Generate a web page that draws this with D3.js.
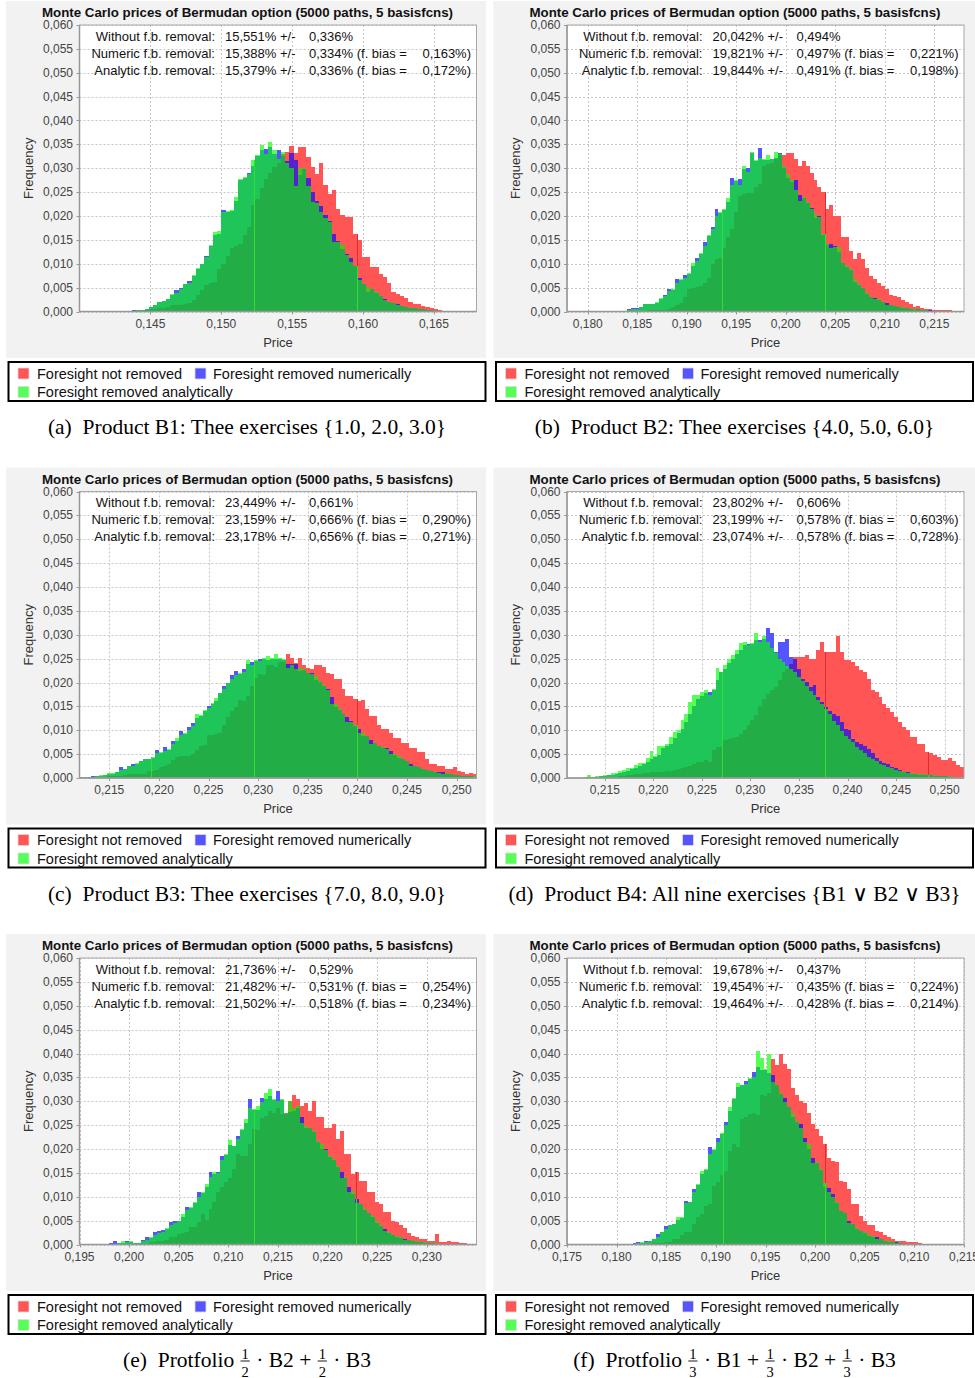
<!DOCTYPE html>
<html><head><meta charset="utf-8">
<script src="https://cdnjs.cloudflare.com/ajax/libs/d3/7.8.5/d3.min.js"></script>
<style>body{margin:0;background:#fff;} svg{display:block;}</style>
</head><body><svg id="c" width="975" height="1378"></svg>
<script>
// ---------------- DATA ----------------
const seriesNames = ["Foresight not removed", "Foresight removed numerically", "Foresight removed analytically"];
const annotLabels = ["Without f.b. removal:", "Numeric f.b. removal:", "Analytic f.b. removal:"];
const chartTitle = "Monte Carlo prices of Bermudan option (5000 paths, 5 basisfcns)";
const yTicks = [0,0.005,0.010,0.015,0.020,0.025,0.030,0.035,0.040,0.045,0.050,0.055,0.060];

// statistics printed in the plots (percent)
const statMeans = [[15.551,15.388,15.379],[20.042,19.821,19.844],[23.449,23.159,23.178],[23.802,23.199,23.074],[21.736,21.482,21.502],[19.678,19.454,19.464]];
const statErrs  = [[0.336,0.334,0.336],[0.494,0.497,0.491],[0.661,0.666,0.656],[0.606,0.578,0.578],[0.529,0.531,0.518],[0.437,0.435,0.428]];
const statBias  = [[0.163,0.172],[0.221,0.198],[0.290,0.271],[0.603,0.728],[0.254,0.234],[0.224,0.214]];

// Panel (a)
const xDomA = [0.1400, 0.1680];
const xTicksA = [0.145,0.150,0.155,0.160,0.165];
const binA = [0.1428, 0.0003];
const redA = [0,0,.0001,.0001,.0001,.0002,.0003,.0005,.0006,.0008, .0008,.0010,.0013,.0013,.0014,.0015,.0018,.0025,.0035,.0045, .0056,.0060,.0062,.0090,.0100,.0117,.0132,.0138,.0142,.0160, .0176,.0223,.0235,.0258,.0278,.0290,.0303,.0310,.0330,.0335, .0347,.0331,.0345,.0345,.0324,.0303,.0289,.0310,.0265,.0247, .0254,.0215,.0202,.0198,.0198,.0163,.0149,.0114,.0114,.0093, .0093,.0079,.0072,.0060,.0040,.0036,.0032,.0028,.0020,.0016, .0015,.0012,.0010,.0008,.0005,.0004,.0002,.0002,.0001,.0002, .0001,.0002,.0001,.0002];
const blueA = [.0002,.0001,.0002,.0003,.0003,.0004,.0005,.0009,.0013,.0020, .0021,.0026,.0034,.0044,.0050,.0057,.0064,.0074,.0090,.0099, .0117,.0138,.0160,.0162,.0213,.0208,.0210,.0232,.0275,.0280, .0290,.0305,.0326,.0338,.0340,.0345,.0330,.0338,.0325,.0315, .0331,.0317,.0285,.0298,.0279,.0250,.0232,.0220,.0202,.0190, .0163,.0148,.0130,.0120,.0113,.0095,.0070,.0058,.0041,.0047, .0038,.0032,.0026,.0020,.0017,.0015,.0011,.0010,.0008,.0007, .0006,.0005,.0004,.0003,.0002,.0001,.0001,0,.0001,0, 0,0,0,0];
const greenA = [.0001,.0001,.0002,.0002,.0003,.0004,.0006,.0009,.0014,.0020, .0022,.0026,.0036,.0039,.0048,.0058,.0060,.0076,.0092,.0100, .0114,.0140,.0166,.0168,.0208,.0210,.0212,.0240,.0277,.0282, .0288,.0317,.0328,.0349,.0330,.0356,.0338,.0320,.0335,.0310, .0300,.0262,.0300,.0300,.0262,.0230,.0228,.0209,.0195,.0188, .0146,.0146,.0140,.0118,.0103,.0095,.0067,.0058,.0052,.0048, .0040,.0032,.0025,.0020,.0017,.0014,.0011,.0009,.0008,.0007, .0006,.0005,.0004,.0003,.0002,.0002,.0001,0,0,0, 0,0,0,0];
const seamA = [0.1523, 0.1596];

// Panel (b)
const xDomB = [0.1779, 0.2180];
const xTicksB = [0.180,0.185,0.190,0.195,0.200,0.205,0.210,0.215];
const binB = [0.1812, 0.0004];
const redB = [0,0,0,0,0,0,0,.0001,.0002,.0002, .0002,.0002,.0003,.0003,.0003,.0004,.0004,.0006,.0010,.0014, .0017,.0030,.0048,.0050,.0051,.0054,.0060,.0071,.0100,.0110, .0112,.0134,.0155,.0172,.0208,.0242,.0247,.0249,.0249,.0260, .0266,.0305,.0308,.0310,.0320,.0327,.0327,.0332,.0332,.0320, .0305,.0315,.0305,.0290,.0275,.0260,.0250,.0215,.0224,.0200, .0200,.0155,.0155,.0127,.0109,.0123,.0110,.0092,.0075,.0069, .0060,.0054,.0047,.0035,.0033,.0031,.0025,.0020,.0015,.0010, .0012,.0008,.0006,.0005,.0003,.0003,.0003,.0003,.0003,.0002];
const blueB = [0,.0001,0,0,.0001,.0002,.0002,.0005,.0008,.0008, .0010,.0015,.0015,.0015,.0018,.0027,.0035,.0047,.0046,.0068, .0067,.0076,.0079,.0096,.0113,.0121,.0146,.0158,.0178,.0215, .0207,.0213,.0230,.0279,.0273,.0277,.0298,.0300,.0332,.0316, .0343,.0318,.0318,.0320,.0322,.0332,.0300,.0280,.0272,.0275, .0245,.0238,.0228,.0217,.0195,.0200,.0160,.0140,.0142,.0137, .0125,.0101,.0094,.0086,.0062,.0056,.0050,.0037,.0031,.0029, .0025,.0020,.0017,.0013,.0011,.0010,.0008,.0007,.0006,.0004, .0005,.0003,.0003,.0003,.0001,0,0,0,0,0];
const greenB = [0,0,0,0,.0001,.0002,.0002,.0003,.0005,.0006, .0010,.0015,.0015,.0015,.0019,.0028,.0033,.0042,.0047,.0060, .0068,.0070,.0080,.0102,.0105,.0122,.0138,.0160,.0172,.0200, .0208,.0215,.0238,.0265,.0275,.0265,.0305,.0292,.0334,.0318, .0322,.0320,.0327,.0320,.0334,.0330,.0305,.0287,.0275,.0255, .0232,.0240,.0230,.0215,.0204,.0198,.0162,.0142,.0132,.0135, .0135,.0102,.0095,.0088,.0068,.0057,.0050,.0038,.0030,.0026, .0026,.0020,.0014,.0013,.0012,.0010,.0009,.0007,.0006,.0005, .0005,.0004,.0003,.0002,0,0,0,0,0,0];
const seamB = [0.1936, 0.2040];

// Panel (c)
const xDomC = [0.2120, 0.2520];
const xTicksC = [0.215,0.220,0.225,0.230,0.235,0.240,0.245,0.250];
const binC = [0.2120, 0.0004];
const redC = [.0001,.0001,.0001,.0002,.0002,.0002,.0002,.0004,.0004,.0004, .0004,.0006,.0008,.0008,.0008,.0008,.0009,.0015,.0015,.0016, .0024,.0025,.0030,.0038,.0043,.0046,.0047,.0047,.0050,.0058, .0068,.0070,.0090,.0091,.0093,.0094,.0110,.0127,.0140,.0148, .0164,.0162,.0172,.0193,.0210,.0217,.0215,.0236,.0236,.0233, .0243,.0243,.0259,.0252,.0240,.0252,.0236,.0231,.0228,.0236, .0236,.0232,.0220,.0217,.0207,.0207,.0186,.0172,.0172,.0165, .0161,.0163,.0144,.0130,.0130,.0110,.0102,.0102,.0095,.0083, .0083,.0073,.0073,.0062,.0062,.0054,.0054,.0040,.0029,.0029, .0026,.0026,.0019,.0019,.0024,.0015,.0013,.0008,.0010,.0009];
const blueC = [.0003,.0003,.0003,.0005,.0005,.0005,.0006,.0008,.0009,.0013, .0022,.0018,.0025,.0029,.0030,.0035,.0039,.0040,.0042,.0058, .0053,.0064,.0059,.0078,.0078,.0099,.0093,.0106,.0115,.0125, .0130,.0141,.0150,.0156,.0162,.0177,.0193,.0198,.0215,.0224, .0218,.0228,.0238,.0242,.0246,.0250,.0250,.0248,.0250,.0250, .0250,.0248,.0238,.0238,.0238,.0225,.0227,.0220,.0220,.0205, .0202,.0192,.0186,.0170,.0148,.0142,.0134,.0127,.0120,.0108, .0102,.0088,.0087,.0080,.0073,.0067,.0063,.0062,.0057,.0049, .0042,.0039,.0035,.0029,.0025,.0022,.0018,.0017,.0014,.0013, .0012,.0012,.0009,.0008,.0007,.0006,.0005,.0004,.0004,.0003];
const greenC = [.0001,.0002,.0001,.0003,.0004,.0006,.0006,.0010,.0010,.0013, .0017,.0019,.0026,.0025,.0031,.0036,.0040,.0040,.0043,.0052, .0054,.0057,.0060,.0071,.0084,.0090,.0094,.0100,.0108,.0134, .0132,.0143,.0146,.0158,.0168,.0179,.0186,.0200,.0208,.0215, .0220,.0222,.0248,.0236,.0248,.0244,.0252,.0255,.0252,.0260, .0252,.0250,.0230,.0236,.0228,.0231,.0229,.0220,.0218,.0214, .0203,.0194,.0184,.0155,.0155,.0144,.0133,.0118,.0118,.0110, .0094,.0095,.0088,.0072,.0074,.0068,.0064,.0061,.0051,.0050, .0047,.0040,.0036,.0025,.0026,.0022,.0019,.0017,.0015,.0013, .0010,.0009,.0010,.0009,.0007,.0006,.0005,.0005,.0004,.0004];
const seamC = [0.2192, 0.2296, 0.2400];

// Panel (d)
const xDomD = [0.2111, 0.2520];
const xTicksD = [0.215,0.220,0.225,0.230,0.235,0.240,0.245,0.250];
const binD = [0.2112, 0.0004];
const redD = [0,0,0,0,.0001,.0001,.0001,.0001,.0001,.0002, .0002,.0003,.0003,.0004,.0005,.0006,.0007,.0008,.0009,.0010, .0011,.0012,.0013,.0013,.0013,.0014,.0015,.0016,.0018,.0020, .0022,.0025,.0030,.0034,.0034,.0038,.0034,.0058,.0065,.0065, .0079,.0082,.0084,.0086,.0092,.0100,.0110,.0122,.0132,.0150, .0165,.0175,.0184,.0191,.0205,.0222,.0228,.0238,.0254,.0254, .0254,.0257,.0250,.0250,.0268,.0285,.0264,.0264,.0264,.0297, .0264,.0247,.0247,.0243,.0234,.0226,.0222,.0208,.0184,.0180, .0170,.0156,.0147,.0138,.0128,.0117,.0107,.0100,.0086,.0086, .0071,.0071,.0055,.0053,.0048,.0045,.0037,.0037,.0041,.0036, .0027,.0023];
const blueD = [0,.0001,.0001,.0001,.0001,.0002,.0003,.0003,.0004,.0004, .0006,.0007,.0009,.0010,.0013,.0015,.0018,.0020,.0026,.0030, .0033,.0040,.0045,.0048,.0062,.0068,.0072,.0084,.0094,.0102, .0118,.0133,.0150,.0165,.0172,.0178,.0180,.0185,.0205,.0222, .0228,.0240,.0250,.0260,.0268,.0278,.0280,.0281,.0290,.0288, .0292,.0315,.0303,.0264,.0284,.0285,.0292,.0254,.0250,.0229, .0208,.0201,.0191,.0194,.0170,.0159,.0149,.0140,.0135,.0130, .0117,.0103,.0100,.0082,.0075,.0071,.0066,.0061,.0052,.0041, .0036,.0031,.0030,.0023,.0020,.0016,.0013,.0013,.0009,.0009, .0007,.0007,.0006,.0006,.0005,.0005,.0004,.0004,.0003,.0002, .0002,.0001];
const greenD = [.0001,.0001,.0001,.0001,.0002,.0006,.0002,.0004,.0004,.0006, .0007,.0010,.0010,.0014,.0016,.0020,.0020,.0027,.0031,.0031, .0041,.0056,.0046,.0068,.0068,.0072,.0086,.0096,.0100,.0121, .0135,.0159,.0173,.0173,.0180,.0184,.0173,.0187,.0231,.0222, .0236,.0250,.0257,.0269,.0282,.0285,.0278,.0282,.0304,.0285, .0297,.0285,.0272,.0262,.0250,.0242,.0235,.0228,.0222,.0212, .0203,.0193,.0182,.0174,.0163,.0155,.0145,.0135,.0120,.0112, .0098,.0088,.0082,.0075,.0065,.0058,.0052,.0045,.0040,.0035, .0030,.0027,.0022,.0020,.0016,.0014,.0012,.0011,.0010,.0009, .0008,.0008,.0007,.0006,.0006,.0005,.0005,.0004,.0004,.0003, .0002,.0002];
const seamD = [0.2271, 0.2377, 0.2483];

// Panel (e)
const xDomE = [0.1950, 0.2350];
const xTicksE = [0.195,0.200,0.205,0.210,0.215,0.220,0.225,0.230];
const binE = [0.1980, 0.0004];
const redE = [.0001,.0001,.0001,.0001,.0001,.0001,.0001,.0001,.0001,.0002, .0005,.0005,.0008,.0008,.0010,.0015,.0015,.0022,.0024,.0026, .0036,.0036,.0047,.0064,.0052,.0074,.0090,.0110,.0120,.0130, .0140,.0158,.0189,.0186,.0185,.0210,.0241,.0240,.0264,.0270, .0280,.0275,.0285,.0273,.0276,.0300,.0314,.0304,.0290,.0297, .0280,.0300,.0268,.0268,.0245,.0245,.0252,.0220,.0238,.0189, .0189,.0147,.0151,.0134,.0134,.0109,.0109,.0088,.0085,.0069, .0069,.0050,.0047,.0040,.0034,.0024,.0017,.0015,.0012,.0012, .0008,.0008,.0022,.0006,.0005,.0007,.0005,.0005,.0003,.0003,.0001];
const blueE = [.0003,.0007,.0003,.0004,.0007,.0006,.0004,.0004,.0010,.0015, .0014,.0026,.0029,.0030,.0033,.0047,.0049,.0049,.0058,.0078, .0076,.0087,.0109,.0107,.0120,.0151,.0148,.0152,.0186,.0187, .0208,.0206,.0227,.0239,.0255,.0305,.0281,.0282,.0307,.0305, .0310,.0302,.0321,.0302,.0273,.0278,.0280,.0286,.0268,.0245, .0245,.0236,.0215,.0200,.0200,.0184,.0177,.0163,.0151,.0139, .0120,.0105,.0095,.0084,.0072,.0066,.0058,.0044,.0039,.0033, .0025,.0019,.0016,.0014,.0012,.0009,.0008,.0006,.0005,.0004, .0004,.0003,.0002,.0002,.0001,0,.0001,0,0,0,0];
const greenE = [.0001,.0002,.0004,.0007,.0005,.0007,.0004,.0004,.0007,.0010, .0015,.0020,.0025,.0026,.0034,.0040,.0045,.0050,.0064,.0072, .0078,.0088,.0100,.0109,.0127,.0142,.0152,.0150,.0178,.0189, .0218,.0207,.0220,.0241,.0262,.0285,.0283,.0290,.0298,.0318, .0326,.0304,.0300,.0304,.0275,.0300,.0285,.0290,.0255,.0248, .0243,.0238,.0217,.0210,.0198,.0186,.0179,.0165,.0140,.0141, .0110,.0113,.0086,.0085,.0074,.0067,.0059,.0050,.0040,.0028, .0026,.0020,.0017,.0015,.0010,.0010,.0008,.0007,.0006,.0005, .0004,.0003,.0003,.0002,.0001,.0001,0,0,0,0,0];
const seamE = [0.2126, 0.2229];

// Panel (f)
const xDomF = [0.1750, 0.2150];
const xTicksF = [0.175,0.180,0.185,0.190,0.195,0.200,0.205,0.210,0.215];
const binF = [0.1812, 0.0004];
const redF = [.0001,.0001,.0001,.0001,.0001,.0002,.0003,.0003,.0003,.0006, .0006,.0012,.0012,.0019,.0026,.0026,.0043,.0057,.0064,.0081, .0085,.0123,.0130,.0145,.0154,.0196,.0210,.0205,.0262,.0268, .0273,.0276,.0272,.0314,.0310,.0318,.0388,.0375,.0398,.0377, .0367,.0328,.0314,.0300,.0297,.0276,.0252,.0241,.0227,.0210, .0182,.0175,.0172,.0134,.0130,.0116,.0085,.0085,.0060,.0050, .0040,.0040,.0029,.0026,.0019,.0015,.0012,.0008,.0008,.0007, .0005,.0005,.0005,.0004,.0002];
const blueF = [.0001,.0003,.0006,.0004,.0008,.0007,.0011,.0022,.0026,.0038, .0040,.0042,.0052,.0056,.0092,.0089,.0116,.0125,.0148,.0156, .0205,.0198,.0224,.0232,.0257,.0280,.0305,.0330,.0333,.0342, .0347,.0361,.0372,.0365,.0365,.0360,.0356,.0333,.0316,.0307, .0287,.0268,.0257,.0252,.0224,.0200,.0182,.0170,.0156,.0120, .0118,.0106,.0087,.0070,.0066,.0050,.0042,.0033,.0028,.0025, .0017,.0016,.0015,.0011,.0008,.0006,.0005,.0005,.0003,.0001, .0001,.0001,0,0,0];
const greenF = [.0001,.0001,.0003,.0005,.0005,.0008,.0012,.0016,.0027,.0033, .0041,.0043,.0057,.0057,.0086,.0090,.0110,.0127,.0154,.0158, .0190,.0200,.0215,.0234,.0250,.0289,.0307,.0339,.0335,.0336, .0349,.0350,.0406,.0391,.0368,.0400,.0340,.0335,.0318,.0298, .0289,.0276,.0259,.0244,.0214,.0210,.0170,.0172,.0158,.0129, .0110,.0100,.0088,.0071,.0067,.0045,.0043,.0034,.0029,.0026, .0020,.0017,.0012,.0012,.0008,.0007,.0006,.0003,.0003,.0001, .0001,0,0,0,0];
const seamF = [0.1907, 0.2010];

// captions (strings, and [numerator, denominator] fractions)
const captions = [
  ["(a)  Product B1: Thee exercises {1.0, 2.0, 3.0}"],
  ["(b)  Product B2: Thee exercises {4.0, 5.0, 6.0}"],
  ["(c)  Product B3: Thee exercises {7.0, 8.0, 9.0}"],
  ["(d)  Product B4: All nine exercises {B1 \u2228 B2 \u2228 B3}"],
  ["(e)  Protfolio ", ["1","2"], " \u00b7 B2 + ", ["1","2"], " \u00b7 B3"],
  ["(f)  Protfolio ", ["1","3"], " \u00b7 B1 + ", ["1","3"], " \u00b7 B2 + ", ["1","3"], " \u00b7 B3"]
];

const panels = [
  {red:redA, blue:blueA, green:greenA, bin:binA, dom:xDomA, ticks:xTicksA, seams:seamA},
  {red:redB, blue:blueB, green:greenB, bin:binB, dom:xDomB, ticks:xTicksB, seams:seamB},
  {red:redC, blue:blueC, green:greenC, bin:binC, dom:xDomC, ticks:xTicksC, seams:seamC},
  {red:redD, blue:blueD, green:greenD, bin:binD, dom:xDomD, ticks:xTicksD, seams:seamD},
  {red:redE, blue:blueE, green:greenE, bin:binE, dom:xDomE, ticks:xTicksE, seams:seamE},
  {red:redF, blue:blueF, green:greenF, bin:binF, dom:xDomF, ticks:xTicksF, seams:seamF}
];

// ---------------- STYLE ----------------
const SANS = "'Liberation Sans', Arial, Helvetica, sans-serif";
const SERIF = "'Liberation Serif', 'Times New Roman', Times, serif";
const COLORS = {R:'#ff5555', B:'#5555ff', G:'#55ff55', RB:'#5522cc', RG:'#58bb22', BG:'#20c55a', RBG:'#22ad46'};
const legendColors = ['#ff5555', '#5555ff', '#55ff55'];

const svg = d3.select('#c');
svg.append('rect').attr('width',975).attr('height',1378).attr('fill','#fff');
const fmt3 = v => d3.format('.3f')(v).replace('.', ',');

function segments(r, b, g) {
  const levels = Array.from(new Set([0, r, b, g])).sort((p, q) => p - q);
  const out = [];
  for (let k = 1; k < levels.length; k++) {
    const lo = levels[k-1], hi = levels[k];
    const key = (r >= hi ? 'R' : '') + (b >= hi ? 'B' : '') + (g >= hi ? 'G' : '');
    if (key) out.push({lo, hi, key});
  }
  return out;
}

function drawCaption(g, cx, y, parts) {
  const grp = g.append('g');
  let x = 0;
  parts.forEach(p => {
    if (typeof p === 'string') {
      const t = grp.append('text').attr('x', x).attr('y', y)
        .attr('font-family', SERIF).attr('font-size', 21.5).attr('fill', '#000')
        .style('white-space', 'pre').text(p);
      x += t.node().getComputedTextLength();
    } else {
      const fs = 14.5;
      const n = grp.append('text').attr('x', x + 2).attr('y', y - 8)
        .attr('font-family', SERIF).attr('font-size', fs).text(p[0]);
      const w = n.node().getComputedTextLength();
      grp.append('text').attr('x', x + 2).attr('y', y + 9.5)
        .attr('font-family', SERIF).attr('font-size', fs).text(p[1]);
      grp.append('line').attr('x1', x + 1).attr('x2', x + w + 3)
        .attr('y1', y - 6).attr('y2', y - 6).attr('stroke', '#000').attr('stroke-width', 0.9);
      x += w + 4;
    }
  });
  grp.attr('transform', `translate(${cx - x / 2},0)`);
}

panels.forEach((p, k) => {
  const col = k % 2, row = Math.floor(k / 2);
  const ox = col * 487.5, oy = row * 466.5;
  const g = svg.append('g');

  // chart background
  g.append('rect').attr('x', 6 + ox).attr('y', 1 + oy).attr('width', col ? 481.5 : 480).attr('height', 357).attr('fill', '#f2f2f2');

  const L = 79.5 + ox, R = 476.5 + ox, T = 25 + oy, Bm = 311.5 + oy;
  const x = d3.scaleLinear().domain(p.dom).range([L, R]);
  const y = d3.scaleLinear().domain([0, 0.06]).range([Bm, T]);

  // plot area
  g.append('rect').attr('x', L).attr('y', T).attr('width', R - L).attr('height', Bm - T).attr('fill', '#fff');

  // grid
  const grid = g.append('g').attr('stroke', '#c6c6c6').attr('stroke-dasharray', '2,2').attr('stroke-width', 1);
  grid.selectAll('line.h').data(yTicks).join('line').attr('class', 'h')
    .attr('x1', L).attr('x2', R).attr('y1', d => Math.round(y(d)) + 0.5).attr('y2', d => Math.round(y(d)) + 0.5);
  grid.selectAll('line.v').data(p.ticks).join('line').attr('class', 'v')
    .attr('y1', T).attr('y2', Bm).attr('x1', d => Math.round(x(d)) + 0.5).attr('x2', d => Math.round(x(d)) + 0.5);

  // histogram bars (overlapping series rendered as blended segments)
  const clipId = 'clip' + k;
  g.append('clipPath').attr('id', clipId).append('rect').attr('x', L).attr('y', T).attr('width', R - L).attr('height', Bm - T);
  const bars = g.append('g').attr('clip-path', `url(#${clipId})`).attr('shape-rendering', 'crispEdges');
  const rows = [];
  p.red.forEach((r, i) => {
    const x0 = p.bin[0] + i * p.bin[1], x1 = x0 + p.bin[1];
    segments(r, p.blue[i], p.green[i]).forEach(s => rows.push({x0, x1, lo: s.lo, hi: s.hi, key: s.key}));
  });
  bars.selectAll('rect').data(rows).join('rect')
    .attr('x', d => x(d.x0)).attr('width', d => x(d.x1) - x(d.x0))
    .attr('y', d => y(d.hi)).attr('height', d => y(d.lo) - y(d.hi))
    .attr('fill', d => COLORS[d.key]);

  // thin rendering seams
  p.seams.forEach(s => {
    const i = Math.floor((s - p.bin[0]) / p.bin[1]);
    const env = Math.max(p.blue[i], p.green[i]);
    const xs = Math.round(x(s)) + 0.5;
    bars.append('line').attr('x1', xs).attr('x2', xs).attr('y1', y(0)).attr('y2', y(env)).attr('stroke', '#30e030').attr('stroke-width', 1);
    if (p.red[i] > env) bars.append('line').attr('x1', xs).attr('x2', xs).attr('y1', y(env)).attr('y2', y(p.red[i])).attr('stroke', '#e42a2a').attr('stroke-width', 1);
  });

  // outline + axes
  g.append('rect').attr('x', L).attr('y', T).attr('width', R - L).attr('height', Bm - T).attr('fill', 'none').attr('stroke', '#a8a8a8').attr('stroke-width', 1);
  g.append('line').attr('x1', L).attr('x2', L).attr('y1', T).attr('y2', Bm).attr('stroke', '#979797').attr('stroke-width', 1.5);
  g.append('line').attr('x1', L).attr('x2', R).attr('y1', Bm).attr('y2', Bm).attr('stroke', '#979797').attr('stroke-width', 1.5);

  // y ticks
  const yt = g.append('g');
  yt.selectAll('line').data(yTicks).join('line').attr('x1', L - 3).attr('x2', L)
    .attr('y1', d => Math.round(y(d)) + 0.5).attr('y2', d => Math.round(y(d)) + 0.5).attr('stroke', '#999');
  yt.selectAll('text').data(yTicks).join('text').attr('x', L - 6.5).attr('y', d => y(d) + 4)
    .attr('text-anchor', 'end').attr('font-family', SANS).attr('font-size', 12).attr('fill', '#444').text(fmt3);

  // x ticks
  const xt = g.append('g');
  xt.selectAll('line').data(p.ticks).join('line').attr('y1', Bm).attr('y2', Bm + 3)
    .attr('x1', d => Math.round(x(d)) + 0.5).attr('x2', d => Math.round(x(d)) + 0.5).attr('stroke', '#999');
  xt.selectAll('text').data(p.ticks).join('text').attr('x', d => x(d)).attr('y', Bm + 16)
    .attr('text-anchor', 'middle').attr('font-family', SANS).attr('font-size', 12).attr('fill', '#444').text(fmt3);

  // axis titles
  g.append('text').attr('x', (L + R) / 2).attr('y', Bm + 35).attr('text-anchor', 'middle')
    .attr('font-family', SANS).attr('font-size', 13).attr('fill', '#333').text('Price');
  g.append('text').attr('transform', `translate(${32.5 + ox},${(T + Bm) / 2}) rotate(-90)`).attr('text-anchor', 'middle')
    .attr('font-family', SANS).attr('font-size', 13).attr('fill', '#333').text('Frequency');

  // chart title
  g.append('text').attr('x', 247.5 + ox).attr('y', 17 + oy).attr('text-anchor', 'middle')
    .attr('font-family', SANS).attr('font-size', 12.5).attr('font-weight', 'bold').attr('fill', '#111')
    .attr('textLength', 411).attr('lengthAdjust', 'spacingAndGlyphs').text(chartTitle);

  // annotation
  const an = g.append('g').attr('font-family', SANS).attr('font-size', 13).attr('fill', '#111');
  annotLabels.forEach((lab, j) => {
    const by = 40.5 + oy + j * 17;
    an.append('text').attr('x', 215 + ox).attr('y', by).attr('text-anchor', 'end').text(lab);
    an.append('text').attr('x', 225 + ox).attr('y', by).text(fmt3(statMeans[k][j]) + '% +/-');
    an.append('text').attr('x', 309 + ox).attr('y', by).text(fmt3(statErrs[k][j]) + '%' + (j > 0 ? ' (f. bias =' : ''));
    if (j > 0) an.append('text').attr('x', 471 + ox).attr('y', by).attr('text-anchor', 'end').text(fmt3(statBias[k][j - 1]) + '%)');
  });

  // legend
  const lg = g.append('g');
  lg.append('rect').attr('x', 8.5 + ox).attr('y', 362 + oy).attr('width', 477).attr('height', 39).attr('fill', '#fff').attr('stroke', '#000').attr('stroke-width', 2);
  const legPos = [[18, 368, 37, 378.5], [195, 368, 213, 378.5], [18, 386.5, 37, 397]];
  seriesNames.forEach((nm, j) => {
    const lp = legPos[j];
    lg.append('rect').attr('x', lp[0] + ox).attr('y', lp[1] + oy).attr('width', 11).attr('height', 11)
      .attr('fill', legendColors[j]).attr('stroke', '#ddd').attr('stroke-width', 0.8);
    lg.append('text').attr('x', lp[2] + ox).attr('y', lp[3] + oy).attr('font-family', SANS).attr('font-size', 14.5).attr('fill', '#111').text(nm);
  });

  // caption
  drawCaption(g, 247 + ox, 434 + oy, captions[k]);
});
</script>
</body></html>
